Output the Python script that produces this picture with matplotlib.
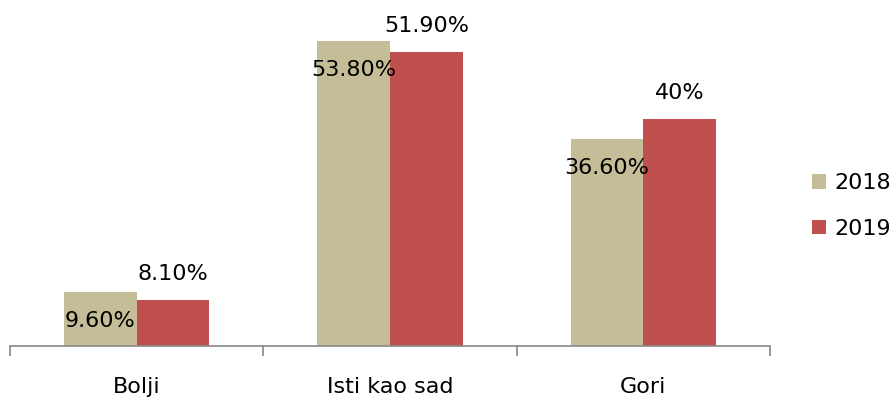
import numpy as np
import matplotlib.pyplot as plt

categories = ['Bolji', 'Isti kao sad', 'Gori']
series_names = ['2018', '2019']
values_2018 = [9.6, 53.8, 36.6]
values_2019 = [8.1, 51.9, 40.0]
labels_2018 = ['9.60%', '53.80%', '36.60%']
labels_2019 = ['8.10%', '51.90%', '40%']

colors = ['#C4BD97', '#C0504D']

plt.rcParams['font.family'] = ['DejaVu Sans']

fig = plt.figure(figsize=(8.94, 4.01), dpi=100)
ax = fig.add_axes([10 / 894, 55 / 401, 760 / 894, 340 / 401])

x = np.arange(len(categories))
w = 0.287
b1 = ax.bar(x - w / 2, values_2018, w, color=colors[0], label=series_names[0])
b2 = ax.bar(x + w / 2, values_2019, w, color=colors[1], label=series_names[1])

for rect, lab in zip(b1, labels_2018):
    ax.annotate(lab, (rect.get_x() + rect.get_width() / 2, rect.get_height()),
                xytext=(0, -21), textcoords='offset points',
                ha='center', va='center', fontsize=16, color='#000000')
for rect, lab in zip(b2, labels_2019):
    ax.annotate(lab, (rect.get_x() + rect.get_width() / 2, rect.get_height()),
                xytext=(0, 19), textcoords='offset points',
                ha='center', va='center', fontsize=16, color='#000000')

ax.set_xlim(-0.5, 2.5)
ax.set_ylim(0, 60)
ax.set_xticks([-0.5, 0.5, 1.5, 2.5])
ax.set_xticklabels([])
ax.set_xticks(x, minor=True)
ax.set_xticklabels(categories, minor=True, fontsize=16)
ax.tick_params(axis='x', which='major', length=7, color='#888888', width=1.2)
ax.tick_params(axis='x', which='minor', length=0, pad=22)
ax.set_yticks([])
for s in ['top', 'right', 'left']:
    ax.spines[s].set_visible(False)
ax.spines['bottom'].set_color('#888888')
ax.spines['bottom'].set_linewidth(1.2)

fig.legend(loc='center left', bbox_to_anchor=(812 / 894, 1 - 206 / 401),
           frameon=False, fontsize=16, handlelength=0.65, handleheight=0.65,
           handletextpad=0.35, labelspacing=1.15, borderpad=0, borderaxespad=0)

fig.savefig('out.png', dpi=100)
